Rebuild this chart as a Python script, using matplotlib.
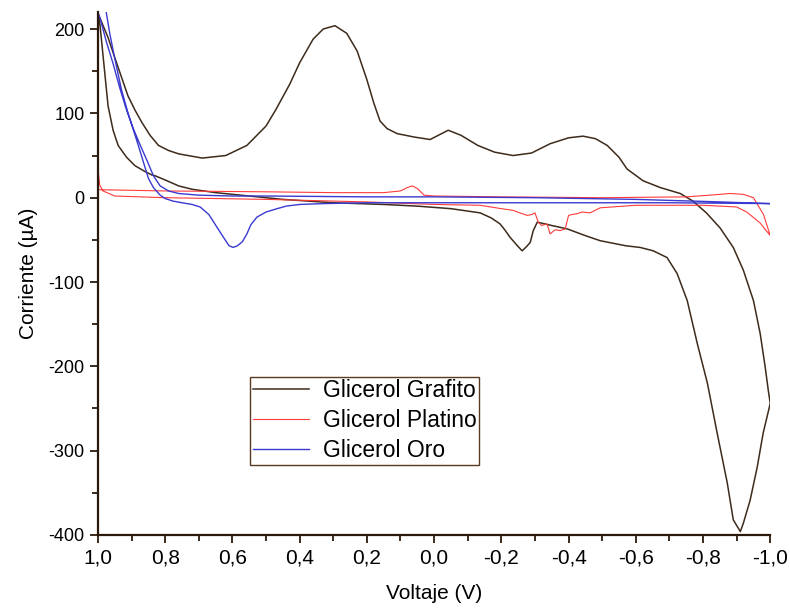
import numpy as np
import matplotlib
matplotlib.use("Agg")
import matplotlib.pyplot as plt
from matplotlib.ticker import MultipleLocator, FuncFormatter

plt.rcParams['font.family'] = ['Liberation Sans', 'DejaVu Sans']
plt.rcParams['axes.unicode_minus'] = False

# Glicerol - Grafito (one closed cycle)
graf_v = [1.0, 0.994, 0.97, 0.949, 0.93, 0.911, 0.89, 0.869, 0.845, 0.82,
          0.79, 0.76, 0.69, 0.62, 0.557, 0.50, 0.47, 0.429, 0.40, 0.36,
          0.33, 0.295, 0.26, 0.229, 0.20, 0.18, 0.161, 0.14, 0.11, 0.06,
          0.012, -0.042, -0.08, -0.13, -0.18, -0.235, -0.29, -0.345, -0.40,
          -0.443, -0.48, -0.515, -0.55, -0.574, -0.622, -0.673, -0.732,
          -0.77, -0.81, -0.851, -0.89, -0.92, -0.95, -0.97, -0.985, -0.994,
          -1.0,
          -0.979, -0.961, -0.94, -0.92, -0.911, -0.89, -0.872, -0.842,
          -0.813, -0.783, -0.753, -0.723, -0.693, -0.652, -0.613, -0.57,
          -0.494, -0.45, -0.396, -0.35, -0.307, -0.295, -0.286, -0.275,
          -0.262, -0.25, -0.226, -0.21, -0.196, -0.17, -0.137, -0.05, 0.05,
          0.15, 0.3, 0.45, 0.55, 0.65, 0.72, 0.76, 0.80, 0.83, 0.84, 0.86,
          0.89, 0.915, 0.94, 0.955, 0.97, 0.985, 0.994, 1.0]
graf_i = [218, 213, 190, 165, 143, 121, 104, 89, 74, 62,
          56, 52, 47, 50, 62, 85, 105, 135, 160, 188,
          200, 204, 195, 174, 140, 113, 91, 82, 76, 72,
          69, 80, 74, 62, 54, 50, 53, 64, 71,
          73, 70, 62, 48, 34, 20, 12, 5,
          -4, -18, -36, -59, -86, -122, -161, -201, -228,
          -244,
          -279, -320, -359, -386, -396, -382, -338, -279,
          -220, -173, -122, -90, -71, -63, -59, -57,
          -51, -45, -37, -33, -29, -39, -53, -58,
          -63, -58, -47, -38, -31, -24, -18, -13, -10,
          -8, -6, -2, 2, 6, 10, 14, 21, 26, 27, 31,
          38, 48, 62, 80, 109, 169, 205, 218]

# Glicerol - Platino
plat_v = [1.0, 0.8, 0.5, 0.3, 0.15, 0.10, 0.08, 0.065, 0.05, 0.03, 0.0,
          -0.2, -0.5, -0.75, -0.82, -0.88, -0.92, -0.95, -0.98, -1.0,
          -0.97, -0.93, -0.90, -0.80, -0.60, -0.494, -0.464, -0.44,
          -0.425, -0.41, -0.40, -0.39, -0.375, -0.36, -0.345, -0.336,
          -0.32, -0.31, -0.30, -0.29, -0.277, -0.255, -0.235, -0.20,
          -0.137, 0.0, 0.2, 0.5, 0.8, 0.95, 0.985, 0.995, 1.0]
plat_i = [9.5, 8, 7, 6, 6, 8, 12, 14, 11, 3, 2,
          1, 0, 1, 3, 5, 4, 0, -20, -45,
          -30, -17, -11, -9, -9, -12, -18, -17,
          -19, -20, -21, -37, -39, -38, -43, -31,
          -33, -29, -18, -20, -21, -18, -15, -13,
          -9, -8, -5, -2, 0, 2, 8, 15, 35]

# Glicerol - Oro
oro_v = [1.0, 0.994, 0.975, 0.955, 0.935, 0.915, 0.896, 0.875, 0.854,
         0.835, 0.815, 0.79, 0.76, 0.70, 0.6, 0.5, 0.2, 0.0,
         -0.3, -0.6, -0.85, -1.0,
         -0.7, -0.3, 0.0, 0.2, 0.33, 0.40, 0.44, 0.467, 0.50, 0.527,
         0.545, 0.557, 0.57, 0.585, 0.598, 0.61, 0.625, 0.646, 0.67,
         0.696, 0.72, 0.75, 0.777, 0.80, 0.815, 0.835, 0.85, 0.88, 0.911,
         0.93, 0.95, 0.965, 0.975, 0.985]
oro_i = [220, 213, 185, 159, 130, 104, 83, 63, 44,
         26, 14, 8, 5, 3, 2, 2, 1, 1,
         0, -2, -5, -7,
         -6, -6, -6, -6, -7, -8, -10, -13, -17, -23,
         -32, -43, -52, -57, -59, -57, -48, -35, -20,
         -11, -8, -6, -4, -1, 3, 12, 23, 62, 101,
         128, 165, 195, 219, 250]

fig = plt.figure(figsize=(7.9, 6.1), dpi=100)
ax = fig.add_axes([0.124, 0.123, 0.851, 0.857])

ax.plot(graf_v, graf_i, color='#3d2b1c', lw=1.1, label='Glicerol Grafito')
ax.plot(plat_v, plat_i, color='#ff3b3b', lw=0.8, label='Glicerol Platino')
ax.plot(oro_v, oro_i, color='#3a3ad0', lw=1.0, label='Glicerol Oro')

ax.set_xlim(1.0, -1.0)
ax.set_ylim(-400, 220)

ax.spines['top'].set_visible(False)
ax.spines['right'].set_visible(False)
for s in ('left', 'bottom'):
    ax.spines[s].set_color('#2b1a0c')
    ax.spines[s].set_linewidth(1.6)

ax.xaxis.set_major_locator(MultipleLocator(0.2))
ax.xaxis.set_minor_locator(MultipleLocator(0.1))
ax.yaxis.set_major_locator(MultipleLocator(100))
ax.yaxis.set_minor_locator(MultipleLocator(50))
ax.xaxis.set_major_formatter(FuncFormatter(lambda v, p: ('%.1f' % v).replace('.', ',').replace('-0,0', '0,0')))
ax.tick_params(which='major', direction='out', length=6, width=1.3, color='#2b1a0c', labelsize=15)
ax.tick_params(which='minor', direction='out', length=4, width=1.3, color='#2b1a0c')
ax.tick_params(axis='y', labelsize=13)

ax.set_xlabel('Voltaje (V)', fontsize=15, labelpad=12)
ax.set_ylabel('Corriente (µA)', fontsize=15, labelpad=8)

leg = ax.legend(loc='lower left', bbox_to_anchor=(0.226, 0.134), fontsize=16.5,
                fancybox=False, framealpha=1, edgecolor='#5a3a22',
                handlelength=2.45, handletextpad=0.6, borderpad=0.12,
                labelspacing=0.3, borderaxespad=0)
leg.get_frame().set_linewidth(1.0)

fig.savefig('out.png', dpi=100)
